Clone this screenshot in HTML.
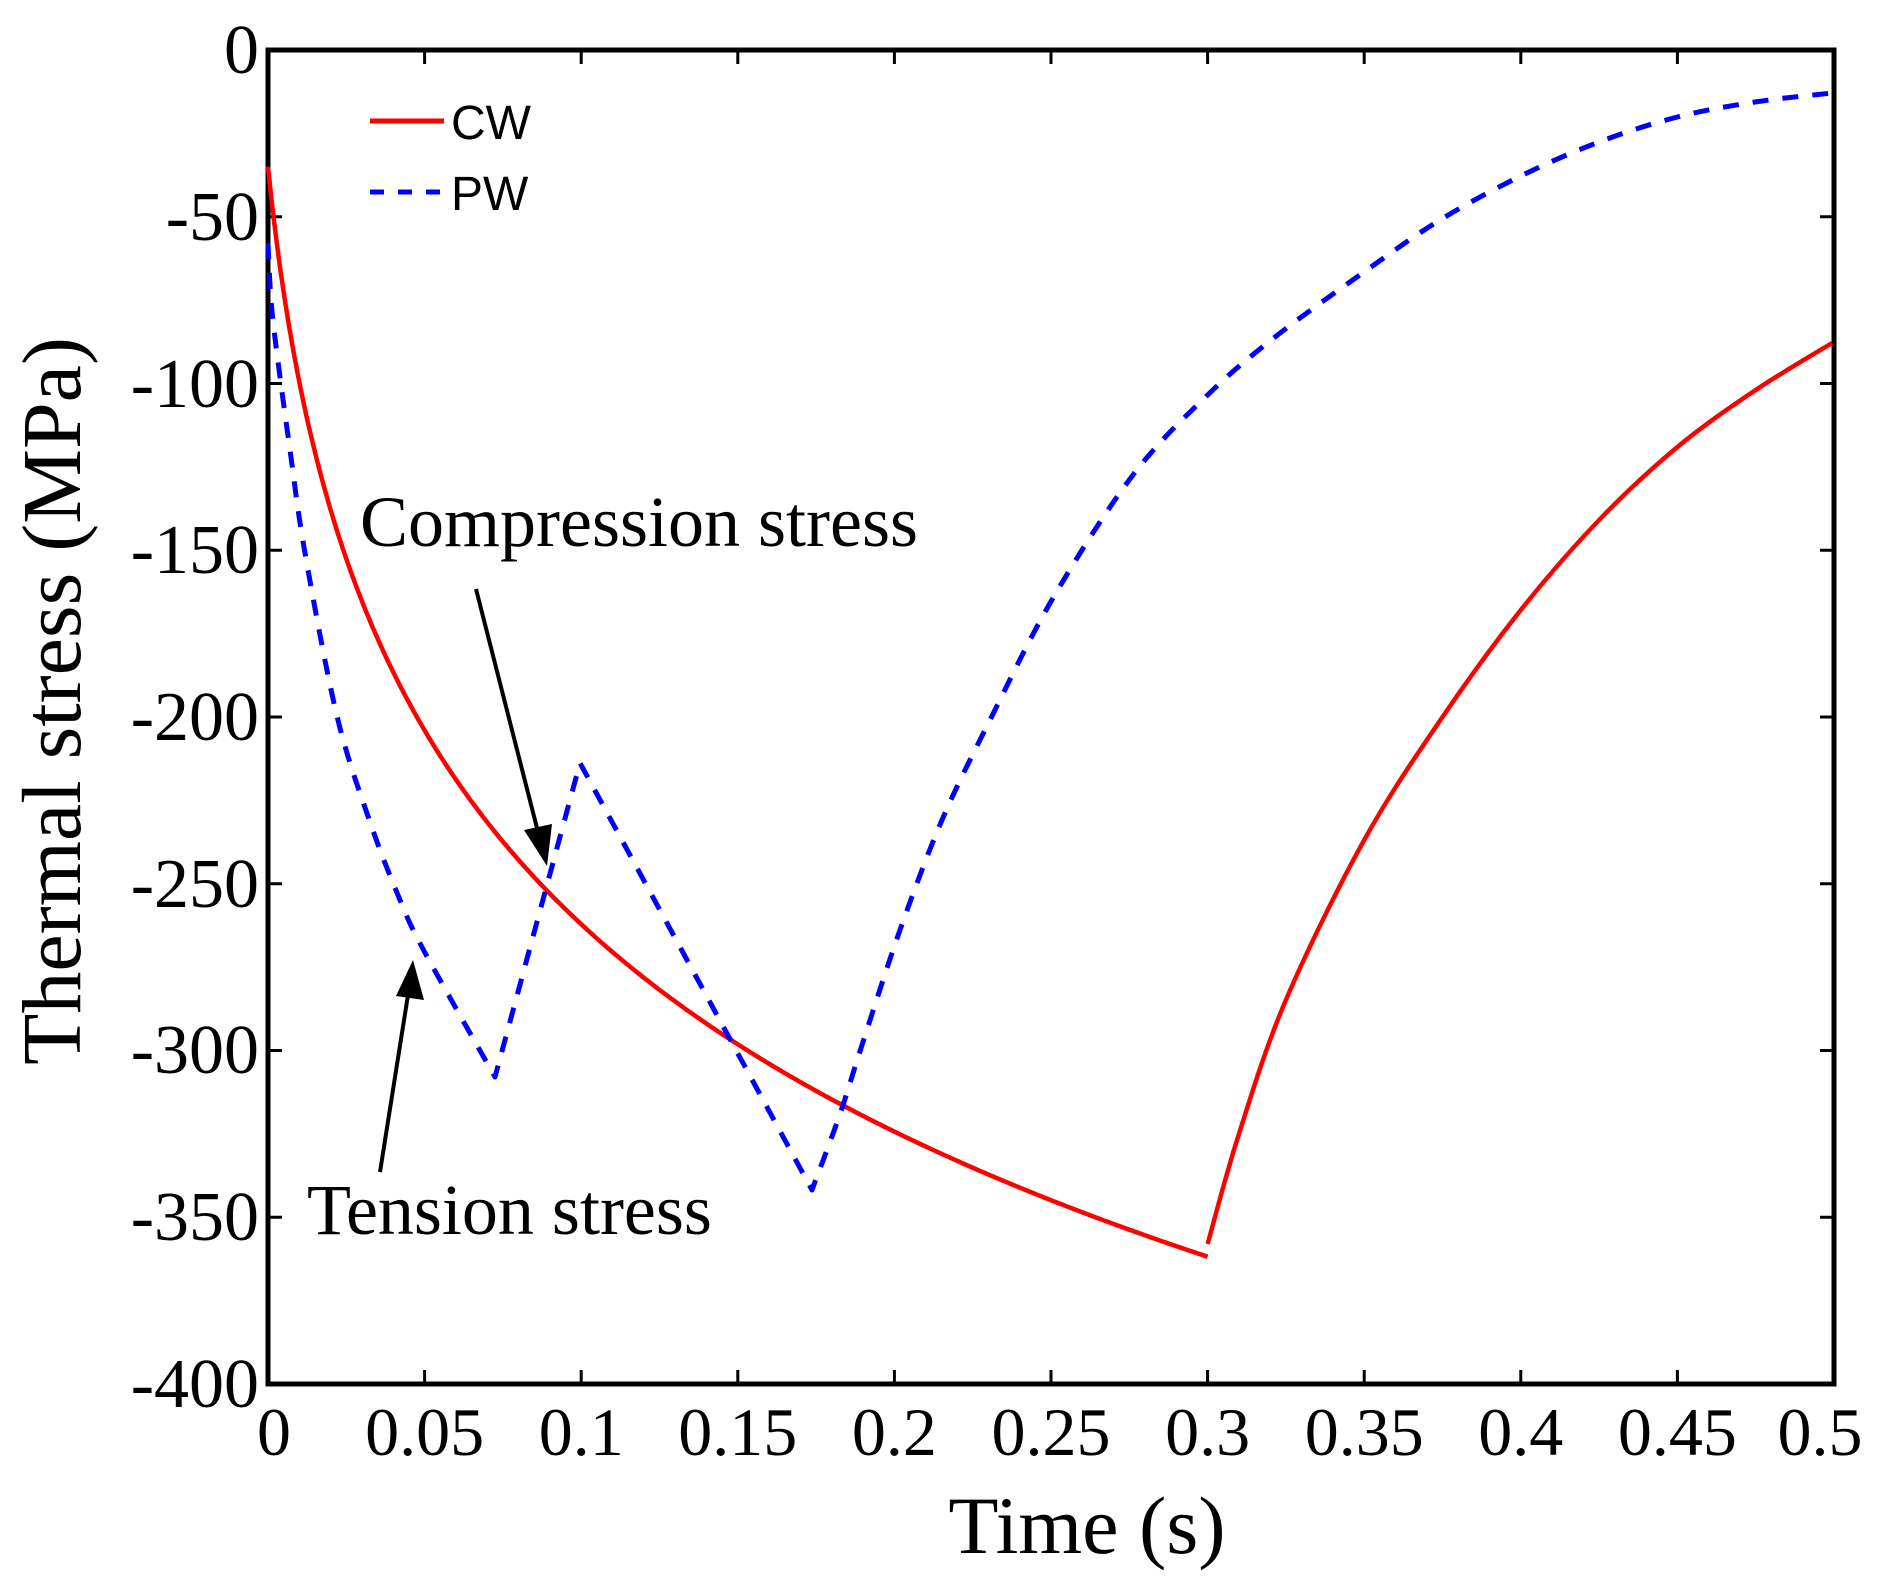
<!DOCTYPE html>
<html><head><meta charset="utf-8"><style>
html,body{margin:0;padding:0;background:#fff;}
svg{display:block;}
text{font-family:"Liberation Serif",serif;fill:#000;}
</style></head><body>
<svg id="s" width="1895" height="1590" viewBox="0 0 1895 1590" xmlns="http://www.w3.org/2000/svg">
<rect x="268" y="50" width="1566" height="1334" fill="none" stroke="#000" stroke-width="5"/>
<g stroke="#000" stroke-width="3">
<path d="M424.6 1384v-14M581.2 1384v-14M737.8 1384v-14M894.4 1384v-14M1051 1384v-14M1207.6 1384v-14M1364.2 1384v-14M1520.8 1384v-14M1677.4 1384v-14
M424.6 50v14M581.2 50v14M737.8 50v14M894.4 50v14M1051 50v14M1207.6 50v14M1364.2 50v14M1520.8 50v14M1677.4 50v14"/>
<path d="M268 216.75h14M268 383.5h14M268 550.25h14M268 717h14M268 883.75h14M268 1050.5h14M268 1217.25h14
M1834 216.75h-14M1834 383.5h-14M1834 550.25h-14M1834 717h-14M1834 883.75h-14M1834 1050.5h-14M1834 1217.25h-14"/>
</g>
<g font-size="70" text-anchor="end">
<text x="259" y="73">0</text>
<text x="259" y="240">-50</text>
<text x="259" y="407">-100</text>
<text x="259" y="573">-150</text>
<text x="259" y="740">-200</text>
<text x="259" y="907">-250</text>
<text x="259" y="1073">-300</text>
<text x="259" y="1240">-350</text>
<text x="259" y="1407">-400</text>
</g>
<g font-size="68" text-anchor="middle">
<text x="274" y="1455">0</text>
<text x="424.6" y="1455">0.05</text>
<text x="581.2" y="1455">0.1</text>
<text x="737.8" y="1455">0.15</text>
<text x="894.4" y="1455">0.2</text>
<text x="1051" y="1455">0.25</text>
<text x="1207.6" y="1455">0.3</text>
<text x="1364.2" y="1455">0.35</text>
<text x="1520.8" y="1455">0.4</text>
<text x="1677.4" y="1455">0.45</text>
<text x="1820" y="1455">0.5</text>
</g>
<text x="1087" y="1553" font-size="82" text-anchor="middle">Time (s)</text>
<text transform="translate(80,701) rotate(-90)" font-size="84" text-anchor="middle">Thermal stress (MPa)</text>

<path id="cw1" fill="none" stroke="#ff0000" stroke-width="4.5" stroke-linejoin="round"/>
<path id="cw2" fill="none" stroke="#ff0000" stroke-width="4.5" stroke-linejoin="round"/>
<path id="pw" fill="none" stroke="#0000ff" stroke-width="5" stroke-dasharray="16,14" stroke-linejoin="round"/>

<line x1="370" y1="121" x2="444" y2="121" stroke="#ff0000" stroke-width="5"/>
<line x1="370" y1="192" x2="444" y2="192" stroke="#0000ff" stroke-width="5" stroke-dasharray="14,14"/>
<text x="451" y="139" font-size="48" style="font-family:'Liberation Sans',sans-serif">CW</text>
<text x="451" y="210" font-size="48" style="font-family:'Liberation Sans',sans-serif">PW</text>

<text x="360" y="546" font-size="72">Compression stress</text>
<text x="307" y="1234" font-size="72">Tension stress</text>
<line x1="476" y1="589" x2="538" y2="832" stroke="#000" stroke-width="4"/>
<polygon points="547,866 524,830 552,824" fill="#000"/>
<line x1="380" y1="1172" x2="408" y2="995" stroke="#000" stroke-width="4"/>
<polygon points="413,960 396,996 424,1000" fill="#000"/>
</svg>
<script>
function X(t){return 268+t*3132;} function Y(s){return 50-s*3.335;}
function cr(p){var d="M"+p[0][0]+" "+p[0][1];for(var i=0;i<p.length-1;i++){var a=p[i-1]||p[i],b=p[i],c=p[i+1],e=p[i+2]||c;
d+=" C"+(b[0]+(c[0]-a[0])/6)+" "+(b[1]+(c[1]-a[1])/6)+" "+(c[0]-(e[0]-b[0])/6)+" "+(c[1]-(e[1]-b[1])/6)+" "+c[0]+" "+c[1];}return d;}
var d1="M";for(var i=0;i<=600;i++){var t=0.3*Math.pow(i/600,1.6);var s=-35-96.5*Math.log(1+t/0.0105);d1+=(i?" L":"")+X(t).toFixed(1)+" "+Y(s).toFixed(1);}
document.getElementById("cw1").setAttribute("d",d1);
var cw2=[[1207.6,1244],[1238.9,1134],[1285.9,1000],[1364.2,840],[1442.5,717],[1520.8,610],[1599.1,520],[1677.4,447],[1755.7,390],[1832,343]];
document.getElementById("cw2").setAttribute("d",cr(cw2));
var s1=[[268,243],[271,300],[277,354],[290,450],[305,553],[337,716],[370,822],[400,900],[424.6,952],[495,1077]];
var s3=[[812,1190],[840,1114],[862,1045],[900,930],[942,820],[990,720],[1053,598],[1133,475],[1207.6,395],[1275,337],[1364,272],[1440,220],[1520.8,176],[1599,142],[1677.4,117],[1755,102],[1832,93]];
var d=cr(s1)+" L580 763 L812 1190"+cr(s3).replace(/^M[^C]*/," ");
document.getElementById("pw").setAttribute("d",d);
</script>
</body></html>
